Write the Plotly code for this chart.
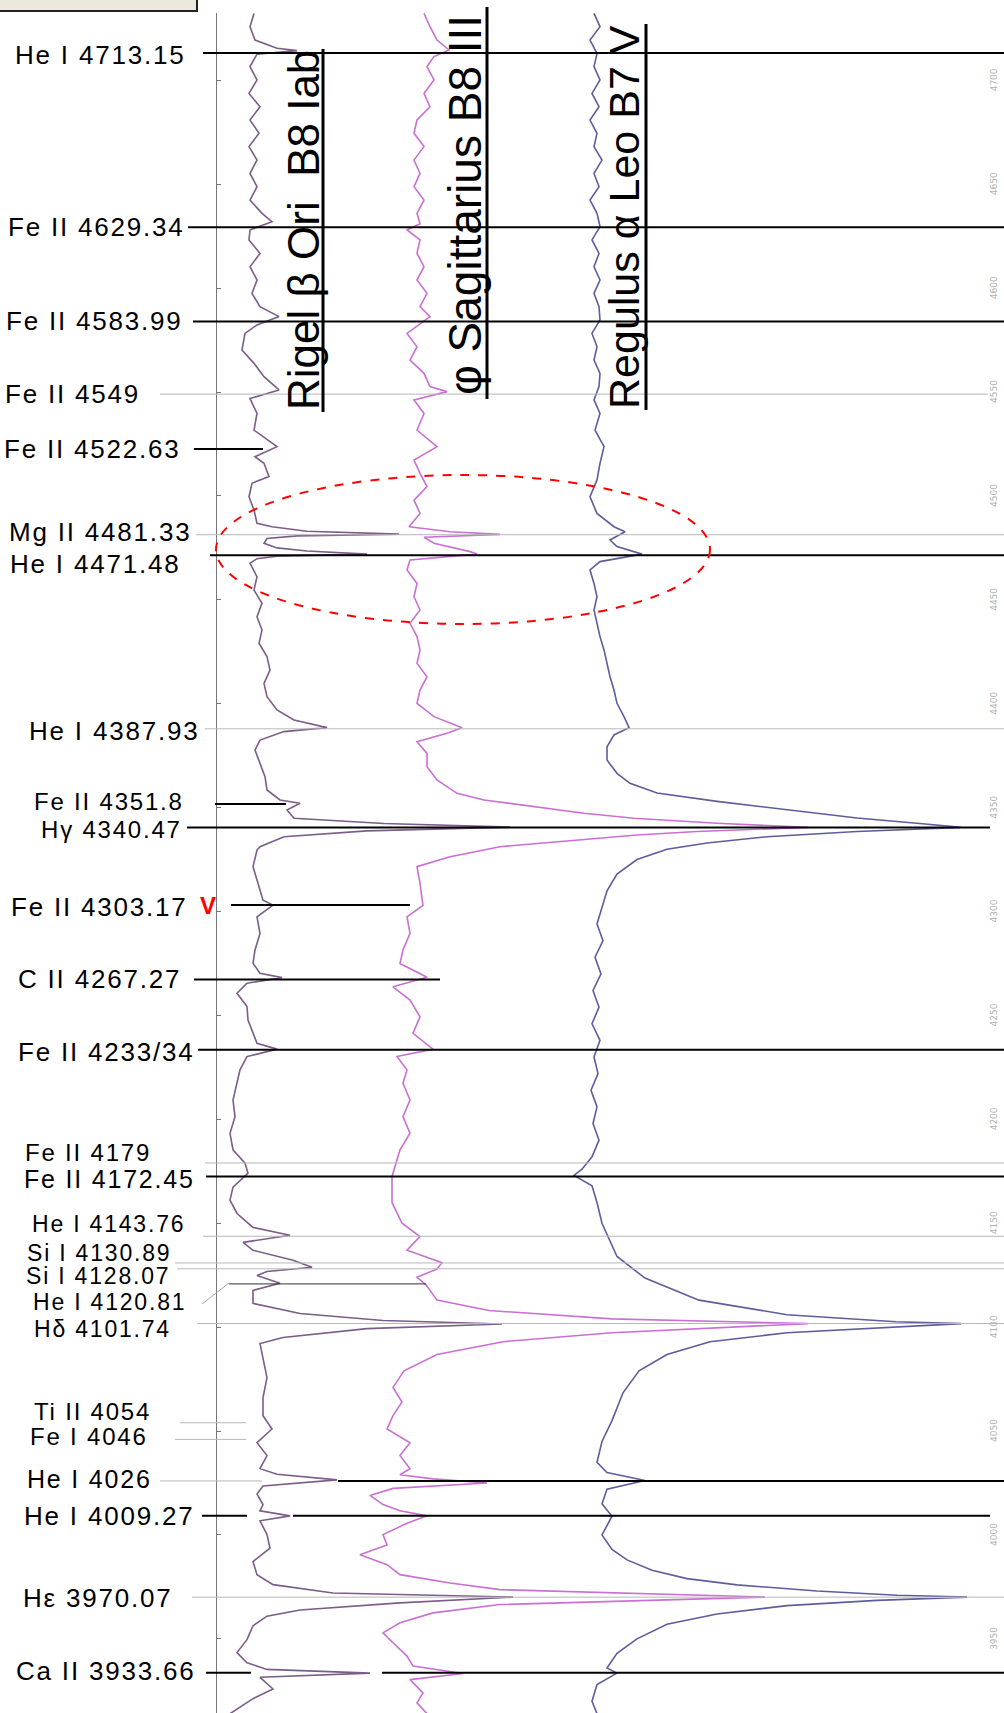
import plotly.graph_objects as go

# ---------------- data ----------------
# marked spectral lines (label text, rest wavelength in Angstrom)
line_labels = ["He I 4713.15", "Fe II 4629.34", "Fe II 4583.99", "Fe II 4549", "Fe II 4522.63",
               "Mg II 4481.33", "He I 4471.48", "He I 4387.93", "Fe II 4351.8", "Hγ 4340.47",
               "Fe II 4303.17", "C II 4267.27", "Fe II 4233/34", "Fe II 4179", "Fe II 4172.45",
               "He I 4143.76", "Si I 4130.89", "Si I 4128.07", "He I 4120.81", "Hδ 4101.74",
               "Ti II 4054", "Fe I 4046", "He I 4026", "He I 4009.27", "Hε 3970.07", "Ca II 3933.66"]
line_wl = [4713.15, 4629.34, 4583.99, 4549.0, 4522.63,
           4481.33, 4471.48, 4387.93, 4351.8, 4340.47,
           4303.17, 4267.27, 4233.5, 4179.0, 4172.45,
           4143.76, 4130.89, 4128.07, 4120.81, 4101.74,
           4054.0, 4046.0, 4026.0, 4009.27, 3970.07, 3933.66]

# wavelength ticks
tick_wl = [4700, 4650, 4600, 4550, 4500, 4450, 4400, 4350, 4300, 4250, 4200, 4150, 4100, 4050, 4000, 3950]
tick_text = ["4700", "4650", "4600", "4550", "4500", "4450", "4400", "4350", "4300", "4250", "4200",
             "4150", "4100", "4050", "4000", "3950"]

star_names = ["Rigel β Ori\u00a0\u00a0B8 Iab", "φ Sagittarius B8 III", "Regulus α Leo B7 V"]

# spectra: wavelength (A) and plotted (inverted, offset) intensity
rigel_wl = [4732.2, 4725.8, 4719.4, 4715.4, 4714.3, 4712.6, 4706.6, 4700.2, 4693.7, 4687.3,
            4680.9, 4674.5, 4668.1, 4661.6, 4655.2, 4648.8, 4642.4, 4636.0, 4632.0, 4628.0,
            4623.2, 4616.7, 4610.3, 4603.9, 4597.5, 4591.1, 4586.3, 4582.3, 4578.2, 4570.2,
            4563.8, 4557.4, 4551.0, 4546.9, 4539.7, 4531.7, 4523.7, 4518.9, 4515.7, 4509.3,
            4506.1, 4499.6, 4493.2, 4486.8, 4485.2, 4483.0, 4481.6, 4480.8, 4479.5, 4477.2,
            4475.0, 4473.5, 4472.0, 4471.0, 4469.8, 4467.6, 4461.1, 4454.7, 4448.3, 4441.9,
            4435.5, 4429.1, 4422.7, 4416.2, 4409.8, 4403.4, 4397.0, 4392.2, 4388.5, 4386.6,
            4382.5, 4377.7, 4371.3, 4364.9, 4358.5, 4353.7, 4352.1, 4348.9, 4344.9, 4342.4,
            4340.6, 4338.8, 4336.0, 4331.2, 4329.6, 4321.6, 4313.6, 4305.5, 4303.1, 4297.5,
            4289.5, 4281.5, 4275.1, 4270.3, 4268.2, 4265.5, 4260.7, 4254.3, 4247.8, 4241.4,
            4236.6, 4233.8, 4230.2, 4223.8, 4217.4, 4209.3, 4201.3, 4193.3, 4185.3, 4178.9,
            4174.1, 4167.4, 4161.1, 4154.7, 4148.0, 4144.2, 4140.8, 4137.0, 4132.2, 4128.8,
            4126.8, 4124.9, 4121.1, 4117.7, 4111.4, 4106.6, 4103.2, 4101.5, 4099.3, 4095.0,
            4092.1, 4085.3, 4075.7, 4066.1, 4057.4, 4051.0, 4044.4, 4038.2, 4031.9, 4029.2,
            4026.5, 4023.6, 4019.7, 4014.6, 4011.6, 4009.2, 4006.8, 4000.2, 3993.6, 3987.2,
            3980.9, 3976.1, 3972.1, 3970.1, 3967.3, 3963.9, 3960.9, 3956.3, 3949.6, 3943.4,
            3938.5, 3935.3, 3933.5, 3931.5, 3925.9, 3921.2, 3914.0]
rigel_flux = [3.7, 3.3, 3.8, 6.0, 8.0, 4.0, 3.3, 4.0, 3.2, 4.3,
              3.3, 4.2, 3.2, 4.0, 3.3, 4.0, 3.3, 4.5, 5.5, 3.3,
              3.2, 4.3, 3.3, 4.0, 3.5, 4.3, 6.2, 4.0, 2.8, 2.5,
              3.7, 4.7, 6.2, 3.3, 4.0, 3.7, 6.0, 3.8, 4.7, 5.2,
              3.5, 3.2, 3.7, 4.0, 5.5, 9.0, 18.2, 8.0, 5.0, 4.7,
              6.0, 9.0, 15.0, 6.0, 4.0, 3.3, 4.0, 3.7, 4.5, 4.0,
              4.5, 4.2, 5.0, 5.3, 4.7, 5.0, 6.0, 7.7, 11.0, 6.7,
              4.3, 3.8, 4.3, 4.8, 5.0, 6.3, 8.3, 7.0, 7.7, 16.7,
              29.3, 15.0, 6.7, 4.3, 4.0, 3.6, 4.1, 4.6, 5.6, 4.0,
              4.3, 3.8, 3.6, 4.3, 6.5, 3.0, 2.0, 3.0, 3.1, 3.6,
              4.0, 6.0, 3.0, 2.3, 2.0, 1.6, 1.8, 1.3, 1.6, 2.8,
              3.1, 1.6, 1.3, 2.0, 3.6, 7.3, 2.6, 3.6, 7.6, 9.5,
              5.0, 4.0, 6.3, 3.6, 3.6, 8.3, 16.6, 28.5, 15.0, 6.6,
              4.3, 4.6, 5.0, 4.6, 4.6, 5.5, 4.0, 5.0, 4.3, 6.0,
              12.0, 4.6, 4.0, 4.6, 4.3, 7.3, 4.3, 5.0, 5.3, 3.6,
              4.0, 5.6, 11.6, 29.6, 18.3, 8.3, 5.0, 3.6, 3.0, 2.0,
              3.0, 5.0, 15.3, 4.3, 5.6, 3.6, 1.3]

phi_wl = [4732.2, 4725.8, 4719.4, 4714.6, 4711.4, 4706.6, 4700.2, 4693.7, 4687.3, 4680.9,
          4674.5, 4668.1, 4661.6, 4655.2, 4648.8, 4642.4, 4636.0, 4631.0, 4628.0, 4623.2,
          4616.7, 4610.3, 4603.9, 4597.5, 4591.1, 4586.3, 4578.2, 4571.8, 4565.4, 4559.0,
          4552.6, 4550.2, 4546.2, 4539.7, 4531.7, 4523.7, 4517.3, 4510.9, 4504.5, 4498.0,
          4491.6, 4485.2, 4482.8, 4481.5, 4480.1, 4477.2, 4473.2, 4472.0, 4469.2, 4464.4,
          4457.9, 4451.5, 4445.1, 4438.7, 4432.3, 4425.9, 4419.4, 4413.0, 4406.6, 4400.2,
          4393.8, 4388.5, 4385.8, 4381.7, 4376.1, 4369.7, 4363.3, 4356.9, 4353.7, 4350.5,
          4347.3, 4344.9, 4342.5, 4340.5, 4338.5, 4336.8, 4334.4, 4331.2, 4326.4, 4321.6,
          4313.6, 4303.0, 4297.5, 4289.5, 4281.5, 4275.0, 4268.4, 4263.8, 4257.4, 4249.3,
          4241.4, 4233.8, 4230.2, 4223.8, 4217.4, 4209.3, 4201.3, 4193.3, 4185.3, 4172.5,
          4160.0, 4150.0, 4143.6, 4137.0, 4131.0, 4128.0, 4124.0, 4120.4, 4113.0, 4108.0,
          4104.0, 4101.7, 4097.3, 4093.0, 4086.8, 4079.0, 4071.0, 4064.0, 4057.4, 4051.0,
          4044.4, 4038.2, 4031.9, 4029.0, 4027.0, 4025.0, 4022.4, 4019.0, 4014.6, 4011.6,
          4009.2, 4005.6, 4000.2, 3995.2, 3990.5, 3985.7, 3980.9, 3976.9, 3973.7, 3970.1,
          3966.5, 3962.5, 3957.7, 3952.9, 3948.1, 3941.7, 3936.9, 3933.3, 3930.4, 3924.0,
          3919.2, 3914.0]
phi_flux = [20.7, 21.3, 22.0, 23.2, 21.7, 21.0, 21.7, 20.7, 21.3, 20.0,
            19.7, 20.7, 19.7, 20.3, 19.7, 20.7, 20.0, 20.3, 19.0, 20.3,
            20.0, 20.7, 20.0, 21.0, 20.3, 21.3, 19.0, 20.0, 19.3, 20.7,
            21.3, 23.0, 19.7, 20.7, 20.0, 22.0, 19.7, 20.3, 21.0, 19.7,
            20.3, 19.2, 23.3, 28.3, 20.7, 21.7, 25.3, 26.0, 19.3, 19.0,
            20.0, 19.7, 20.3, 19.3, 20.0, 20.3, 20.0, 21.0, 20.3, 20.0,
            21.7, 24.5, 23.0, 20.0, 21.0, 21.0, 22.0, 24.0, 26.7, 31.7,
            36.7, 41.7, 50.0, 59.1, 48.0, 42.0, 36.0, 28.3, 23.3, 20.0,
            20.3, 20.6, 19.0, 19.3, 18.6, 18.3, 21.0, 17.6, 19.3, 20.3,
            19.6, 21.6, 18.0, 19.0, 18.6, 19.3, 18.6, 19.3, 18.3, 17.5,
            17.5, 18.5, 20.3, 19.0, 22.5, 22.0, 20.0, 20.9, 22.0, 27.2,
            39.5, 59.1, 39.5, 28.6, 22.0, 18.7, 17.6, 18.5, 17.6, 17.0,
            19.3, 18.3, 19.3, 18.3, 21.6, 27.0, 17.6, 15.3, 16.6, 18.3,
            21.0, 19.0, 16.6, 17.0, 14.3, 17.0, 18.3, 23.3, 28.3, 54.8,
            28.3, 21.6, 18.3, 16.6, 17.6, 19.0, 19.6, 24.6, 19.3, 20.6,
            20.0, 21.0]

regulus_wl = [4732.2, 4725.8, 4719.4, 4713.0, 4706.6, 4700.2, 4693.7, 4687.3, 4680.9, 4674.5,
              4668.1, 4661.6, 4655.2, 4648.8, 4642.4, 4636.0, 4629.6, 4623.2, 4616.7, 4610.3,
              4603.9, 4597.5, 4591.1, 4584.7, 4578.2, 4571.8, 4565.4, 4559.0, 4552.6, 4546.2,
              4539.7, 4531.7, 4523.7, 4515.7, 4507.7, 4499.6, 4491.6, 4485.2, 4482.8, 4478.8,
              4475.6, 4472.0, 4468.4, 4464.4, 4457.9, 4451.5, 4445.1, 4438.7, 4432.3, 4425.9,
              4419.4, 4413.0, 4406.6, 4400.2, 4393.8, 4388.5, 4385.0, 4379.3, 4372.9, 4366.5,
              4361.7, 4357.0, 4353.0, 4349.0, 4345.0, 4342.5, 4340.5, 4338.5, 4336.0, 4333.0,
              4330.0, 4325.0, 4318.0, 4310.0, 4302.0, 4294.0, 4286.0, 4278.0, 4270.0, 4262.0,
              4254.0, 4246.0, 4238.0, 4230.0, 4222.0, 4214.0, 4206.0, 4198.0, 4190.0, 4182.0,
              4176.0, 4173.0, 4168.0, 4160.0, 4150.0, 4144.6, 4134.0, 4123.6, 4113.0, 4106.0,
              4102.6, 4101.7, 4097.3, 4093.0, 4086.8, 4079.0, 4068.4, 4055.0,
              4045.0, 4035.0, 4030.0, 4026.2, 4022.0, 4015.0, 4009.0, 4000.0, 3993.0,
              3988.0, 3983.0, 3979.0, 3976.0, 3973.0, 3971.0, 3970.1, 3968.5, 3966.0, 3962.0,
              3957.0, 3950.0, 3943.0, 3936.0, 3933.5, 3928.0, 3920.0, 3914.0]
regulus_flux = [37.7, 38.3, 37.3, 38.0, 37.7, 38.3, 37.5, 38.2, 37.3, 38.0,
                37.7, 38.5, 37.7, 38.2, 37.3, 38.0, 38.3, 37.5, 38.2, 37.7,
                38.3, 37.7, 38.2, 38.3, 37.5, 38.0, 37.7, 38.3, 38.2, 37.7,
                38.3, 37.8, 38.7, 38.3, 38.0, 37.3, 38.0, 39.7, 40.8, 39.3,
                40.0, 42.5, 38.3, 37.3, 37.7, 38.0, 37.7, 38.0, 38.3, 38.7,
                39.0, 39.3, 39.7, 40.0, 40.7, 41.2, 39.7, 39.0, 39.0, 40.0,
                41.3, 44.0, 50.0, 57.0, 64.0, 70.0, 74.4, 64.0, 55.0, 49.0,
                45.0, 42.0, 40.0, 39.0, 38.5, 38.0, 38.6, 37.8, 38.4, 37.6,
                38.2, 37.5, 38.3, 37.7, 38.1, 37.4, 38.0, 37.6, 38.2, 37.5,
                36.5, 35.7, 37.5, 38.0, 38.5, 39.0, 40.0, 42.8, 48.2, 57.0,
                67.9, 74.4, 57.0, 49.3, 45.0, 42.2, 40.6, 39.5,
                38.5, 38.0, 39.0, 42.8, 39.0, 38.5, 39.5, 38.5, 39.5,
                41.0, 43.5, 47.0, 52.0, 60.0, 68.0, 75.0, 66.0, 57.0, 50.0,
                45.0, 42.0, 40.0, 39.0, 40.0, 38.0, 37.5, 38.0]

# ---------------- geometry helpers (layout only) ----------------
W, H = 1004, 1713
ML, MT = 217, 13
WL_TOP, WL_BOT = 4732.40, 3914.32


def px(xp):
    return (xp - ML) / (W - ML)


def py(yp):
    return (H - yp) / (H - MT)


fig = go.Figure()
spec_colors = ["#7b5d88", "#c970d2", "#5d5d9c"]
for (wl, fl, col, nm) in [(rigel_wl, rigel_flux, spec_colors[0], star_names[0]),
                          (phi_wl, phi_flux, spec_colors[1], star_names[1]),
                          (regulus_wl, regulus_flux, spec_colors[2], star_names[2])]:
    fig.add_trace(go.Scatter(x=fl, y=wl, mode="lines", name=nm,
                             line=dict(color=col, width=1.6), hoverinfo="skip"))

# marker-line segments for each labelled line: (x0 px, x1 px, kind)
segments = [
    [(203, 1004, "k")], [(188, 1004, "k")], [(193, 1004, "k")], [(160, 988, "g")], [(194, 263, "k")],
    [(196, 1004, "g")], [(210, 1004, "k")], [(205, 1004, "g")], [(215, 286, "k")], [(187, 990, "k")],
    [(231, 410, "k")], [(194, 440, "k")], [(198, 1004, "k")], [(205, 1004, "g")], [(206, 1004, "k")],
    [(203, 1004, "g")], [(175, 1004, "g")], [(177, 1004, "g")], [(229, 426, "d")], [(197, 1004, "g")],
    [(180, 246, "g")], [(175, 246, "g")], [(160, 262, "g"), (338, 1004, "k")],
    [(202, 247, "k"), (293, 990, "k")], [(192, 1004, "g")], [(206, 251, "k"), (382, 1004, "k")],
]
seg_style = {"k": dict(color="black", width=2), "g": dict(color="#b8b8b8", width=1),
             "d": dict(color="#333333", width=1)}
shapes = []
for wl, segs in zip(line_wl, segments):
    for x0, x1, kind in segs:
        shapes.append(dict(type="line", xref="paper", yref="y", x0=px(x0), x1=px(x1), y0=wl, y1=wl,
                           line=seg_style[kind], layer="above"))

# leader for He I 4120.81
shapes.append(dict(type="line", xref="paper", yref="paper", x0=px(202), y0=py(1304), x1=px(229), y1=py(1283),
                   line=dict(color="#aaaaaa", width=1)))
# underlines of star names
for xu, ya, yb in [(323, 49, 412), (487, 7, 399), (646, 24, 410)]:
    shapes.append(dict(type="line", xref="paper", yref="paper", x0=px(xu), x1=px(xu), y0=py(ya), y1=py(yb),
                       line=dict(color="black", width=3)))
# dashed ellipse around Mg II / He I
shapes.append(dict(type="circle", xref="paper", yref="paper", x0=px(216), x1=px(710), y0=py(624), y1=py(475),
                   line=dict(color="red", width=2, dash="dash")))
# window fragment at top left
shapes.append(dict(type="rect", xref="paper", yref="paper", x0=px(-3), x1=px(197), y0=py(11), y1=py(-3),
                   fillcolor="#ece9dc", line=dict(color="#222222", width=2)))

# label placement: right edge px, vertical shift px, font size
label_right = [188, 187, 185, 142, 183, 193, 183, 202, 186, 184,
               190, 183, 197, 153, 197, 187, 173, 172, 188, 173,
               153, 150, 154, 197, 175, 198]
label_shift = [-2, 0, 0, 0, 0, 3, -9, -2, 2, -2,
               -2, 1, -2, 10, -2, 12, 10, -7, -18, -5,
               11, 3, 2, 0, -1, 2]
label_size = [26, 26, 26, 26, 26, 26, 26, 26, 24, 24,
              26, 26, 26, 24, 25, 23, 23, 23, 23, 23,
              24, 24, 25, 26, 26, 26]

annotations = []
for t, wl, xr, ys, fs in zip(line_labels, line_wl, label_right, label_shift, label_size):
    annotations.append(dict(text="<span style='letter-spacing:1.8px'>%s</span>" % t, xref="paper", yref="y",
                            x=px(xr), y=wl, yshift=ys, xanchor="right", yanchor="middle", showarrow=False,
                            font=dict(family="Liberation Sans, Arial", size=fs, color="black")))
# red V mark next to Fe II 4303.17
annotations.append(dict(text="<b>V</b>", xref="paper", yref="y", x=px(218), y=line_wl[10], yshift=-1,
                        xanchor="right", yanchor="middle", showarrow=False,
                        font=dict(family="Liberation Sans, Arial", size=24, color="red")))
# star names, rotated
for name, xc, yc, fs in zip(star_names, [303, 465, 624], [230, 205, 217], [44, 46, 43]):
    annotations.append(dict(text=name, xref="paper", yref="paper", x=px(xc), y=py(yc), textangle=-90,
                            xanchor="center", yanchor="middle", showarrow=False,
                            font=dict(family="Liberation Sans, Arial", size=fs, color="black")))
# faint wavelength scale at the right
for tv, tt in zip(tick_wl, tick_text):
    annotations.append(dict(text=tt, xref="paper", yref="y", x=px(994), y=tv, textangle=-90,
                            xanchor="center", yanchor="middle", showarrow=False,
                            font=dict(family="DejaVu Sans", size=9, color="#b0b0b0")))

fig.update_layout(
    width=W, height=H, margin=dict(l=ML, r=0, t=MT, b=0),
    paper_bgcolor="white", plot_bgcolor="white", showlegend=False,
    xaxis=dict(range=[0, 78.7], visible=False, fixedrange=True),
    yaxis=dict(range=[WL_BOT, WL_TOP], showline=True, linecolor="#777777", linewidth=1.5,
               ticks="inside", ticklen=4, tickcolor="#777777", tickvals=tick_wl, showticklabels=False,
               showgrid=False, zeroline=False, fixedrange=True),
    shapes=shapes, annotations=annotations,
)

fig.write_html("out.html", config={"staticPlot": True},
               post_script="document.body.style.margin='0px';document.body.style.overflow='hidden';")
